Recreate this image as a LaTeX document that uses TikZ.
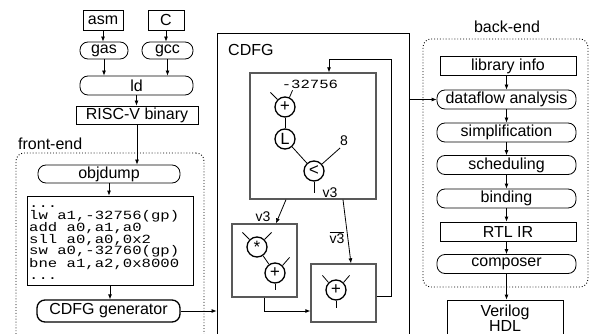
\documentclass[tikz,border=0pt]{standalone}
\usepackage{fontspec}
\setmainfont{Liberation Sans}
\newfontfamily\codefont[FakeStretch=1.25]{Liberation Mono}
\newfontfamily\opfont{Liberation Mono}
\usetikzlibrary{arrows.meta,calc}
\begin{document}
\begin{tikzpicture}[x=1pt,y=-1pt,
  box/.style={draw, line width=0.8pt, inner sep=0pt, font=\fontsize{16}{18}\selectfont},
  rbox/.style={box, rounded corners=8pt},
  arr/.style={-{Latex[length=5pt,width=4pt]}, line width=0.8pt},
  ln/.style={line width=0.8pt},
  blk/.style={draw=black!65, line width=1.3pt, inner sep=0pt},
  op/.style={circle, draw, line width=1.3pt, minimum size=20pt, inner sep=0pt, font=\opfont\fontsize{17}{17}\selectfont},
  frame/.style={draw, dotted, line width=0.9pt, rounded corners=8pt, inner sep=0pt},
  lbl/.style={inner sep=0pt, font=\fontsize{16}{18}\selectfont},
  slbl/.style={inner sep=0pt, font=\fontsize{14}{16}\selectfont}]
\useasboundingbox (0,0) rectangle (589,334);
\begin{scope}
\clip (0,0) rectangle (589,334);
% frames
\node[frame, minimum width=188pt, minimum height=192pt] (fe) at (110,249) {};
\node[lbl, anchor=west] (felbl) at (18,144) {front-end};
\node[draw, line width=0.8pt, inner sep=0pt, minimum width=192pt, minimum height=307pt] (cdfg) at (313,186.5) {};
\node[lbl, anchor=west] (cdfglbl) at (228,50) {CDFG};
\node[frame, minimum width=165pt, minimum height=248pt] (be) at (505.5,163) {};
\node[lbl] (belbl) at (507,27) {back-end};

% left column
\node[box, minimum width=40pt, minimum height=20pt] (asm) at (103,20) {asm};
\node[box, minimum width=36pt, minimum height=20pt] (c) at (166,20) {C};
\node[rbox, minimum width=48pt, minimum height=17pt] (gas) at (104,50.5) {gas};
\node[rbox, minimum width=51pt, minimum height=17pt] (gcc) at (167.5,50.5) {gcc};
\node[rbox, minimum width=113pt, minimum height=19pt] (ld) at (136.5,85.5) {ld};
\node[box, minimum width=122pt, minimum height=18pt] (risc) at (137,115) {RISC-V binary};
\node[rbox, minimum width=142pt, minimum height=18pt] (objdump) at (109,174) {objdump};
\node[box, minimum width=166pt, minimum height=89pt] (code) at (110,240.5) {};
\node[anchor=west, inner sep=0pt, align=left, font=\codefont\fontsize{12.5}{11.5}\selectfont] (codetxt) at (29,242.5)
  {...\\lw a1,-32756(gp)\\add a0,a1,a0\\sll a0,a0,0x2\\sw a0,-32760(gp)\\bne a1,a2,0x8000\\...};
\node[rbox, line width=1.3pt, minimum width=143pt, minimum height=22pt] (gen) at (108.5,311) {CDFG generator};

\draw[arr] (asm.south) -- (asm.south |- gas.north);
\draw[arr] (c.south) -- (c.south |- gcc.north);
\draw[arr] (gas.south) -- (gas.south |- ld.north);
\draw[arr] (gcc.south) -- (gcc.south |- ld.north);
\draw[arr] (ld.south) -- (ld.south |- risc.north);
\draw[arr] (risc.south) -- (risc.south |- objdump.north);
\draw[arr] (objdump.south) -- (objdump.south |- code.north);
\draw[arr] (code.south) -- (code.south |- gen.north);
\draw[arr] (gen.east) -- (gen.east -| cdfg.west);

% CDFG inner
\node[blk, minimum width=126pt, minimum height=126pt] (tb) at (313,136) {};
\node[blk, minimum width=65pt, minimum height=73pt] (lb) at (264.5,260.5) {};
\node[blk, minimum width=65pt, minimum height=58pt] (rb) at (343.5,293) {};

\node[op] (tp) at (285,107) {+};
\node[op] (tl) at (285,139) {L};
\node[op] (tlt) at (314,171) {<};
\draw[ln] (tp.135) -- ++(-7,-7);
\draw[ln] (tp.65) -- ++(3,-7);
\node[inner sep=0pt, font=\codefont\fontsize{12.5}{14}\selectfont] (num) at (310,84) {-32756};
\draw[ln] (tp) -- (tl);
\draw[ln] (tl) -- (tlt);
\draw[ln] (tlt.41) -- ++(18,-16);
\node[slbl] (eight) at (344,141) {8};
\draw[ln] (tlt.south) -- ++(0,11);
\node[slbl] (v3a) at (330,193) {v3};

\node[op] (ls) at (257,247) {*};
\node[op] (lp) at (275,273) {+};
\draw[ln] (ls.135) -- ++(-7,-7);
\draw[ln] (ls.45) -- ++(7,-7);
\draw[ln] (ls) -- (lp);
\draw[ln] (lp.45) -- ++(7,-8);
\draw[ln] (lp.south) -- ++(0,6);

\node[op] (rp) at (336,290) {+};
\draw[ln] (rp.135) -- ++(-6,-7);
\draw[ln] (rp.45) -- ++(6,-7);
\draw[ln] (rp.south) -- ++(0,7);

\draw[arr] ($(tb.south)+(-27,0)$) -- ($(lb.north)+(11.5,0)$);
\node[slbl] (v3b) at (263,217) {v3};
\draw[arr] ($(tb.south)+(30,0)$) -- ($(rb.north)+(7.5,0)$);
\node[slbl] (v3c) at (337,238) {\mbox{$\overline{\hbox{v3}}$}};
\draw[arr] (lb.south) |- ($(rb.west)+(0,18)$);
\coordinate (lpc) at (391,59);
\draw[arr] ($(rb.east)+(0,3)$) -| (lpc) -| ($(tb.north)+(16,0)$);

% back-end
\node[box, minimum width=136pt, minimum height=19pt] (lib) at (508,66) {library info};
\node[rbox, minimum width=139pt, minimum height=19pt] (dfa) at (506.5,99.5) {dataflow analysis};
\node[rbox, minimum width=139pt, minimum height=19pt] (simp) at (506.5,132.5) {simplification};
\node[rbox, minimum width=139pt, minimum height=19pt] (sched) at (506.5,165) {scheduling};
\node[rbox, minimum width=139pt, minimum height=19pt] (bind) at (506.5,198.5) {binding};
\node[box, minimum width=136pt, minimum height=19pt] (rtl) at (508,231.5) {RTL IR};
\node[rbox, minimum width=139pt, minimum height=19pt] (comp) at (506.5,264) {composer};
\node[box, minimum width=116pt, minimum height=46pt] (ver) at (505,323) {};
\node[align=center, inner sep=0pt, font=\fontsize{16}{15}\selectfont] (vertxt) at (505,318) {Verilog\\HDL};

\draw[arr] (cdfg.east |- dfa.west) -- (dfa.west);
\draw[arr] (lib.south -| dfa) -- (dfa.north);
\draw[arr] (dfa.south) -- (simp.north);
\draw[arr] (simp.south) -- (sched.north);
\draw[arr] (sched.south) -- (bind.north);
\draw[arr] (bind.south) -- (bind.south |- rtl.north);
\draw[arr] (rtl.south -| comp) -- (comp.north);
\draw[arr] (comp.south) -- (comp.south |- ver.north);
\end{scope}
\end{tikzpicture}
\end{document}
